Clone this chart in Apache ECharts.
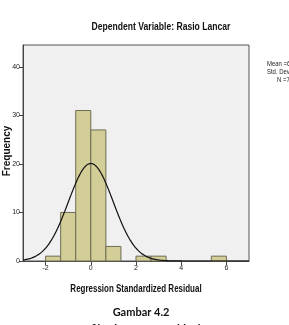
<!DOCTYPE html>
<html>
<head>
<meta charset="utf-8">
<script src="https://cdn.jsdelivr.net/npm/echarts@6/dist/echarts.min.js"></script>
<style>
  html, body { margin: 0; padding: 0; background: #fff; }
  #chart { width: 289px; height: 325px; }
</style>
</head>
<body>
<div id="chart"></div>
<script>
// histogram bins (lower edge, count), bin width 2/3
const binWidth = 2 / 3;
const binLows = [-2, -4 / 3, -2 / 3, 0, 2 / 3, 2, 8 / 3, 16 / 3];
const binCounts = [1, 10, 31, 27, 3, 1, 1, 1];
const xTicks = [-2, 0, 2, 4, 6];
const yTicks = [0, 10, 20, 30, 40];
// stats of the residuals (normal curve overlay)
const mean = 0;
const stdDev = 0.993;
const nObs = 75;

const sans = "'Liberation Sans', Arial, sans-serif";

const chart = echarts.init(document.getElementById('chart'));

const barData = binLows.map((lo, i) => [lo, lo + binWidth, binCounts[i]]);

// normal curve scaled to histogram counts
const curve = [];
for (let x = -3; x <= 7.0001; x += 0.05) {
  const z = (x - mean) / stdDev;
  const y = nObs * binWidth * Math.exp(-0.5 * z * z) / (stdDev * Math.sqrt(2 * Math.PI));
  curve.push([x, y]);
}

// narrow text helper (Arial Narrow look)
function label(text, x, y, size, sx, extra) {
  return Object.assign({
    type: 'text', x: x, y: y, scaleX: sx,
    style: {
      text: text, font: 'bold ' + size + 'px ' + sans, fill: '#111',
      textAlign: 'center', textVerticalAlign: 'middle'
    }
  }, extra || {});
}

function small(text, x, y) {
  return {
    type: 'text', x: x, y: y, scaleX: 0.85,
    style: { text: text, font: '7px ' + sans, fill: '#222', textVerticalAlign: 'middle' }
  };
}

chart.setOption({
  animation: false,
  grid: {
    left: 23, right: 40, top: 45, bottom: 64,
    show: true,
    backgroundColor: '#f0f0f0',
    borderColor: '#555',
    borderWidth: 1
  },
  xAxis: {
    type: 'value',
    min: -3,
    max: 7,
    splitLine: { show: false },
    axisLine: { onZero: false, lineStyle: { color: '#444' } },
    axisTick: { length: 4, customValues: xTicks, lineStyle: { color: '#444' } },
    axisLabel: { customValues: xTicks, fontFamily: sans, fontSize: 7, color: '#222', margin: 4 }
  },
  yAxis: {
    type: 'value',
    min: 0,
    max: 44.5,
    splitLine: { show: false },
    axisLine: { show: true, onZero: false, lineStyle: { color: '#444' } },
    axisTick: { show: true, length: 4, customValues: yTicks, lineStyle: { color: '#444' } },
    axisLabel: { customValues: yTicks, fontFamily: sans, fontSize: 7, color: '#222', margin: 3 }
  },
  series: [
    {
      type: 'custom',
      data: barData,
      encode: { x: [0, 1], y: 2 },
      renderItem: function (params, api) {
        const p0 = api.coord([api.value(0), 0]);
        const p1 = api.coord([api.value(1), api.value(2)]);
        return {
          type: 'rect',
          shape: { x: p0[0], y: p1[1], width: p1[0] - p0[0], height: p0[1] - p1[1] },
          style: { fill: '#d3ce97', stroke: '#6e6c55', lineWidth: 1 }
        };
      }
    },
    {
      type: 'line',
      data: curve,
      showSymbol: false,
      smooth: true,
      lineStyle: { color: '#111', width: 1.2 },
      z: 5
    }
  ],
  graphic: [
    label('Dependent Variable: Rasio Lancar', 161, 27, 11, 0.78),
    label('Regression Standardized Residual', 136, 289, 10.5, 0.76),
    label('Frequency', 7, 151, 10.5, 0.95, { rotation: Math.PI / 2 }),
    small('Mean =6.52E-16', 267, 64),
    small('Std. Dev. =0.993', 267, 72),
    small('N =75', 277, 80),
    { type: 'text', x: 141, y: 312, style: { text: 'Gambar 4.2', font: "bold 11px Lato, 'Open Sans', sans-serif", fill: '#111', textAlign: 'center', textVerticalAlign: 'middle' } },
    { type: 'text', x: 137, y: 329, style: { text: 'Grafik Histogram Residual', font: "bold 11px Lato, 'Open Sans', sans-serif", fill: '#111', textAlign: 'center', textVerticalAlign: 'middle' } }
  ]
});
</script>
</body>
</html>
